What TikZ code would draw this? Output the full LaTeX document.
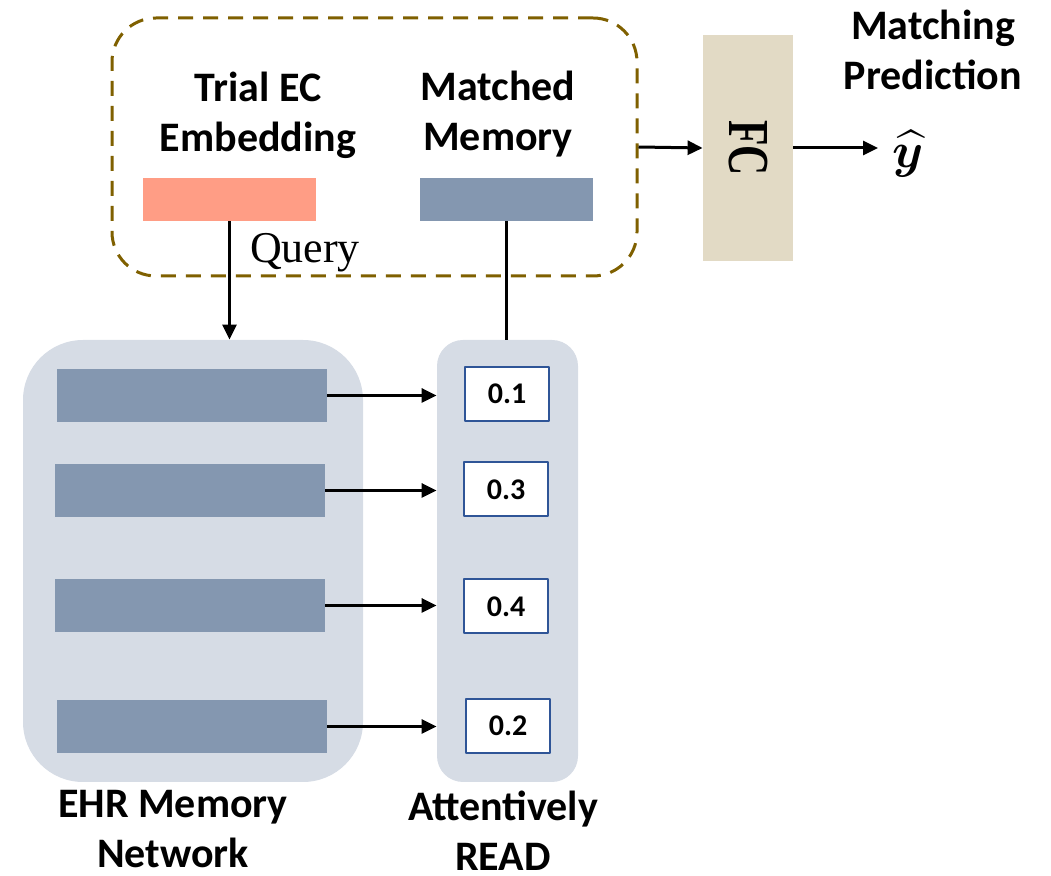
\documentclass[tikz,border=0pt]{standalone}
\usepackage{fontspec}
\usepackage{amsmath}
\usetikzlibrary{arrows.meta}
\newfontfamily\calibri{Carlito}
\newfontfamily\cambria{Liberation Serif}
\definecolor{salmon}{RGB}{255,157,133}
\definecolor{slate}{RGB}{132,151,176}
\definecolor{panelbg}{RGB}{214,220,229}
\definecolor{fcbg}{RGB}{226,218,197}
\definecolor{olive}{RGB}{127,96,0}
\definecolor{valblue}{RGB}{47,85,151}
\begin{document}
\begin{tikzpicture}[x=0.5pt, y=-0.5pt, line join=round,
	>={Triangle[length=7.5pt,width=7pt]},
	lbl/.style={font=\calibri\bfseries\fontsize{21}{25}\selectfont, align=center, inner sep=0pt},
	bar/.style={fill=slate, minimum width=135pt, minimum height=26.5pt, inner sep=0pt},
	panel/.style={fill=panelbg, minimum height=221pt, inner sep=0pt},
	val/.style={draw=valblue, line width=1pt, fill=white, minimum width=42pt, minimum height=27pt,
		inner sep=0pt, font=\calibri\bfseries\fontsize{15}{18}\selectfont},
	wire/.style={line width=1.5pt}]
	\useasboundingbox (0,0) rectangle (1051,876);
	% memory network and read-out column
	\node[panel, rounded corners=30pt, minimum width=170pt] (ehr) at (193,561) {};
	\node[panel, rounded corners=13pt, minimum width=70.5pt] (attn) at (507.5,561) {};
	\foreach \n/\x/\y in {1/192/395.5, 2/190/490.5, 3/190/605.5, 4/192/726.5}
	\node[bar] (b\n) at (\x,\y) {};
	\foreach \n/\x/\y/\v in {1/507/394/0.1, 2/506/489.5/0.3, 3/506/606.5/0.4, 4/508/726/0.2}
	\node[val] (v\n) at (\x,\y) {\v};
	\foreach \n in {1,...,4}
	\draw[wire,->] (b\n.east) -- (b\n.east -| attn.west);
	% trial side
	\node[draw=olive, line width=1.5pt, dash pattern=on 7.5pt off 5pt, rounded corners=22pt,
		minimum width=262.5pt, minimum height=129pt, inner sep=0pt] (ctx) at (374.5,147) {};
	\node[fill=salmon, minimum width=86.5pt, minimum height=21.5pt, inner sep=0pt] (query) at (229.5,199.5) {};
	\node[bar, minimum width=86.5pt, minimum height=21.5pt] (mem) at (506.5,199.5) {};
	\node[lbl] (trial) at (258,115) {Trial EC\\Embedding};
	\node[lbl] (matched) at (498,114) {Matched\\Memory};
	\node[font=\cambria\fontsize{22}{26}\selectfont, inner sep=0pt] (qlabel) at (305,253) {Query};
	\draw[wire,->] (query.south) -- (query.south |- ehr.north);
	\draw[wire] (mem.south) -- (mem.south |- attn.north);
	% prediction head
	\node[fill=fcbg, minimum width=45pt, minimum height=113pt, inner sep=0pt] (fc) at (748,148) {};
	\node[rotate=-90, font=\cambria\bfseries\fontsize{29}{30}\selectfont, inner sep=0pt] (fclabel) at (fc.center) {\scalebox{0.72}[1]{FC}};
	\draw[wire,->] (ctx.east) -- (fc.west);
	\node[font=\fontsize{29}{32}\selectfont, inner sep=0pt, anchor=west] (yhat) at (892,154) {$\boldsymbol{\widehat{y}}$};
	\draw[wire,->] (fc.east) -- ([xshift=-7pt]yhat.west |- fc.east);
	\node[lbl] (pred) at (933,50) {Matching\\Prediction};
	% captions
	\node[lbl] (ehrlbl) at (173,829) {EHR Memory\\Network};
	\node[lbl] (readlbl) at (503,831) {Attentively\\READ};
\end{tikzpicture}
\end{document}
